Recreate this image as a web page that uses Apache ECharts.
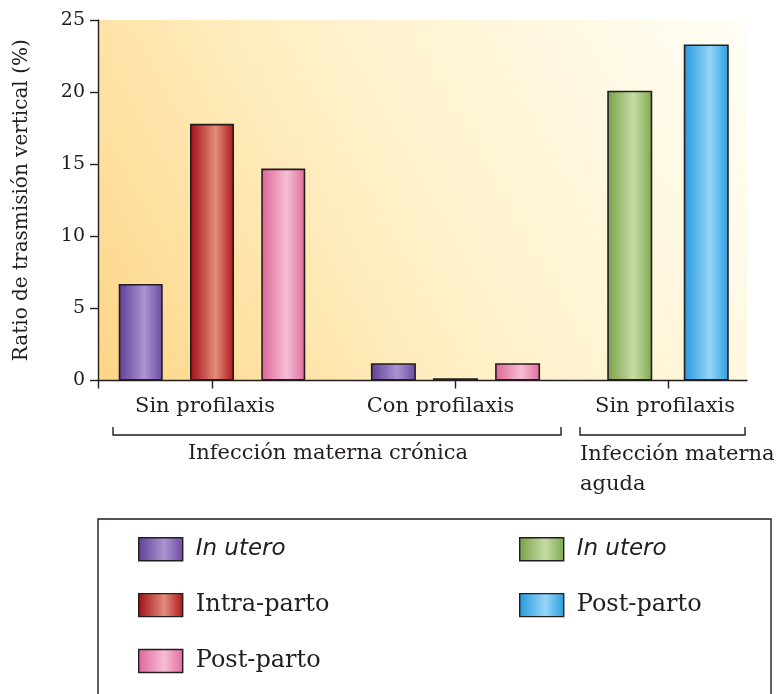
<!DOCTYPE html>
<html>
<head>
<meta charset="utf-8">
<script src="https://cdn.jsdelivr.net/npm/echarts@6/dist/echarts.min.js"></script>
<style>
  html, body { margin: 0; padding: 0; background: #ffffff; }
  #chart { width: 778px; height: 694px; }
</style>
</head>
<body>
<div id="chart"></div>
<script>
// Vertical transmission ratio (%) by timing of infection
const cronicaCategories = ['Sin profilaxis', 'Con profilaxis'];
const cronicaInUtero    = [6.7, 1.2];
const cronicaIntraParto = [17.8, 0.15];
const cronicaPostParto  = [14.7, 1.2];

const agudaCategories = ['Sin profilaxis'];
const agudaInUtero    = [20.1];
const agudaPostParto  = [23.3];

const yTickValues = [0, 5, 10, 15, 20, 25];

const SERIF = '"DejaVu Serif", "Liberation Serif", serif';
const SANS = '"DejaVu Sans", "Open Sans", sans-serif';
const INK = '#231d1d';

// Cylinder-like horizontal shading for the bars
function shade(edge, light, edge2) {
  return new echarts.graphic.LinearGradient(0, 0, 1, 0, [
    { offset: 0, color: edge },
    { offset: 0.58, color: light },
    { offset: 1, color: edge2 || edge }
  ]);
}
const fills = {
  inUtero:    shade('#5f3f95', '#ab94d1', '#6a4aa0'),
  intraParto: shade('#a20e17', '#e38c7a', '#ae131b'),
  postParto:  shade('#dd6598', '#f7bdd5', '#e06c9c'),
  agudaIn:    shade('#789f48', '#c5dda5', '#7fa84f'),
  agudaPost:  shade('#2498de', '#96d6f7', '#2c9de0')
};

// Panel layout: one panel per x-axis group; labelShift nudges the group label left
const panels = [
  { left: 98,  width: 228, barWidth: 44, barGap: '62%', labelShift: 7 },
  { left: 326, width: 259, barWidth: 45, barGap: '38%', labelShift: 15 },
  { left: 585, width: 166, barWidth: 45, barGap: '70%', labelShift: 3 }
];
const plotTop = 20, plotBottom = 694 - 380.5;

const grids = [
  // frame grid: background, axis line, y axis
  { left: 98, width: 649, top: plotTop, bottom: plotBottom, show: true, borderWidth: 0,
    backgroundColor: new echarts.graphic.LinearGradient(0, 1, 1, 0, [
      { offset: 0, color: '#fdd587' },
      { offset: 0.45, color: '#fff0c6' },
      { offset: 1, color: '#fffef6' }
    ]) }
].concat(panels.map(p => ({ left: p.left, width: p.width, top: plotTop, bottom: plotBottom })));

const xAxes = [
  { type: 'value', gridIndex: 0, min: 0, max: 1,
    axisLine: { show: true, lineStyle: { color: INK, width: 1.4 } },
    axisTick: { show: true, length: 8, customValues: [0], lineStyle: { color: INK, width: 1.4 } },
    axisLabel: { show: false }, splitLine: { show: false } }
];
const yAxes = [
  { type: 'value', gridIndex: 0, min: 0, max: 25, interval: 5,
    name: 'Ratio de trasmisión vertical (%)', nameLocation: 'middle', nameRotate: 90, nameGap: 66,
    nameTextStyle: { fontFamily: SERIF, fontSize: 20, color: INK },
    axisLine: { show: true, lineStyle: { color: INK, width: 1.4 } },
    axisTick: { show: true, length: 8, lineStyle: { color: INK, width: 1.4 } },
    axisLabel: { margin: 13, fontFamily: SERIF, fontSize: 19, color: INK,
      customValues: yTickValues },
    splitLine: { show: false } }
];

const panelCategories = [[cronicaCategories[0]], [cronicaCategories[1]], [agudaCategories[0]]];
panelCategories.forEach((cats, i) => {
  xAxes.push({
    type: 'category', gridIndex: i + 1, data: cats,
    axisLine: { show: false },
    axisTick: { show: true, alignWithLabel: true, length: 8, lineStyle: { color: INK, width: 1.4 } },
    axisLabel: { margin: 16, fontFamily: SERIF, fontSize: 21, color: INK,
      padding: [0, panels[i].labelShift * 2, 0, 0] }
  });
  yAxes.push({ type: 'value', gridIndex: i + 1, min: 0, max: 25, show: false });
});

function bar(name, value, panelIndex, fill) {
  const p = panels[panelIndex];
  return {
    type: 'bar', name: name,
    xAxisIndex: panelIndex + 1, yAxisIndex: panelIndex + 1,
    data: [value],
    barWidth: p.barWidth, barGap: p.barGap,
    itemStyle: { color: fill, borderColor: INK, borderWidth: 1.6 },
    emphasis: { disabled: true }
  };
}

const series = [];
cronicaCategories.forEach((c, i) => {
  series.push(bar('In utero', cronicaInUtero[i], i, fills.inUtero));
  series.push(bar('Intra-parto', cronicaIntraParto[i], i, fills.intraParto));
  series.push(bar('Post-parto', cronicaPostParto[i], i, fills.postParto));
});
agudaCategories.forEach((c, i) => {
  series.push(bar('In utero (aguda)', agudaInUtero[i], 2 + i, fills.agudaIn));
  series.push(bar('Post-parto (aguda)', agudaPostParto[i], 2 + i, fills.agudaPost));
});

const legendText = {
  color: INK, padding: [0, 0, 0, 8],
  rich: {
    it: { fontFamily: SANS, fontStyle: 'italic', fontSize: 23, color: INK },
    rm: { fontFamily: SERIF, fontSize: 24, color: INK }
  }
};
function legendLabel(name) {
  const label = name.replace(' (aguda)', '');
  return label === 'In utero' ? '{it|' + label + '}' : '{rm|' + label + '}';
}
const legendBase = {
  orient: 'vertical', top: 537, itemWidth: 44, itemHeight: 23, itemGap: 31.5,
  padding: 0, selectedMode: false, formatter: legendLabel, textStyle: legendText,
  icon: 'rect', itemStyle: { borderColor: INK, borderWidth: 1.4 }
};

const option = {
  animation: false,
  backgroundColor: '#ffffff',
  grid: grids,
  xAxis: xAxes,
  yAxis: yAxes,
  series: series,
  legend: [
    Object.assign({}, legendBase, { left: 138, data: ['In utero', 'Intra-parto', 'Post-parto'] }),
    Object.assign({}, legendBase, { left: 519, data: ['In utero (aguda)', 'Post-parto (aguda)'] })
  ],
  graphic: [
    { type: 'polyline', shape: { points: [[113, 427], [113, 435], [561, 435], [561, 427]] },
      style: { stroke: INK, lineWidth: 1.4, fill: null } },
    { type: 'polyline', shape: { points: [[580, 427], [580, 435], [745, 435], [745, 427]] },
      style: { stroke: INK, lineWidth: 1.4, fill: null } },
    { type: 'text', x: 328, y: 454,
      style: { text: 'Infección materna crónica', font: '21px ' + SERIF, fill: INK,
        align: 'center', verticalAlign: 'middle' } },
    { type: 'text', x: 580, y: 440,
      style: { text: 'Infección materna\naguda', font: '21px ' + SERIF, fill: INK,
        align: 'left', verticalAlign: 'top', lineHeight: 30 } },
    { type: 'rect', shape: { x: 98, y: 519, width: 673, height: 200 },
      style: { fill: null, stroke: INK, lineWidth: 1.4 } }
  ]
};

const chart = echarts.init(document.getElementById('chart'), null, { renderer: 'canvas' });
chart.setOption(option);
</script>
</body>
</html>
